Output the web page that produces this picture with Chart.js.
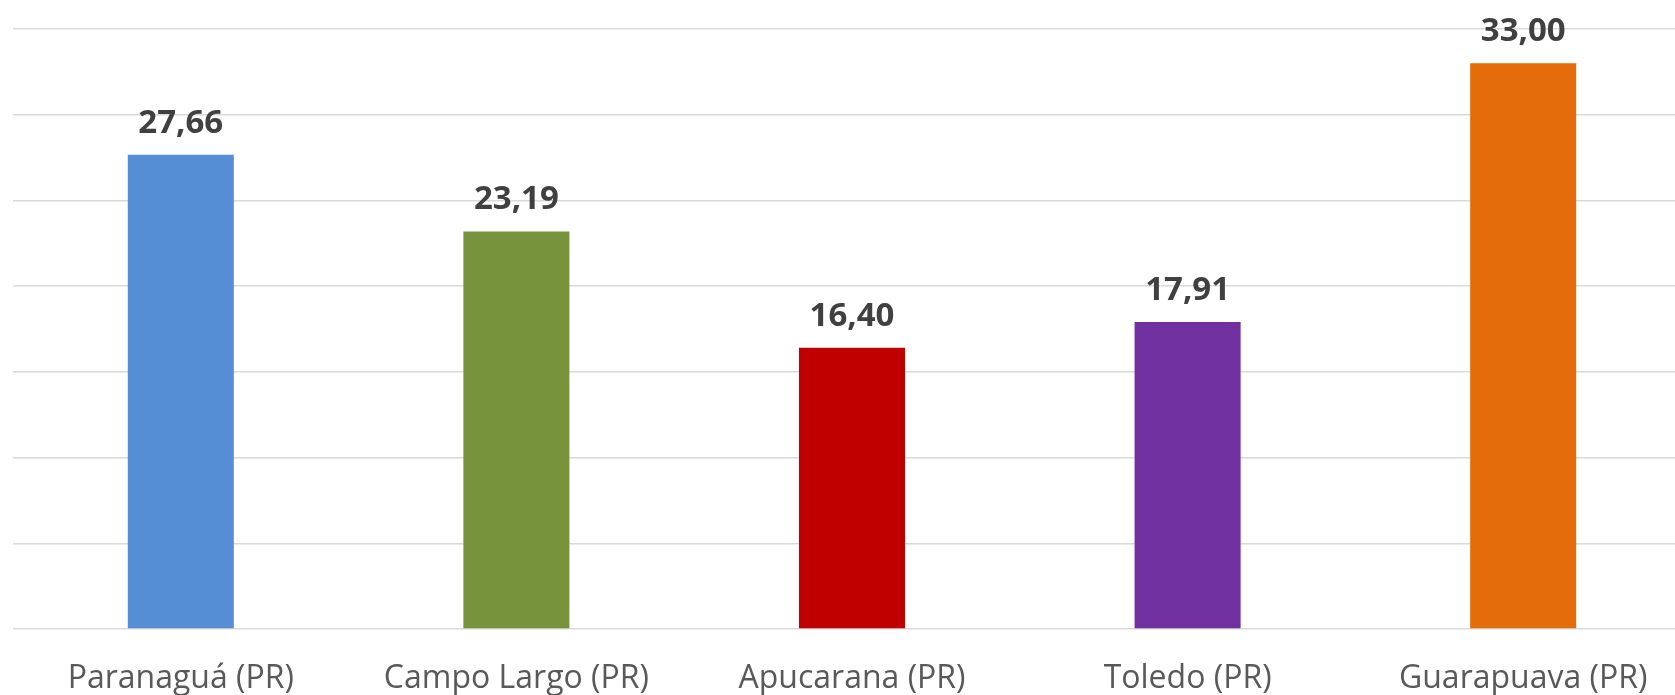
<!DOCTYPE html>
<html>
<head>
<meta charset="utf-8">
<script src="https://cdn.jsdelivr.net/npm/chart.js@4"></script>
<style>
  html, body { margin: 0; padding: 0; background: #fff; overflow: hidden; }
  #wrap { position: relative; width: 1691px; height: 695px; }
</style>
</head>
<body>
<div id="wrap"><canvas id="barChart"></canvas></div>
<script>
var cities = ["Paranaguá (PR)", "Campo Largo (PR)", "Apucarana (PR)", "Toledo (PR)", "Guarapuava (PR)"];
var values = [27.66, 23.19, 16.40, 17.91, 33.00];
var barColors = ["#558ED5", "#77933C", "#C00000", "#7030A0", "#E46C0A"];
var yMin = 0, yMax = 35, yStep = 5;

// draws the value above each bar, with a comma as decimal sign
var valueLabels = {
    id: 'valueLabels',
    afterDatasetsDraw: function(chart) {
        var ctx = chart.ctx;
        var meta = chart.getDatasetMeta(0);
        ctx.save();
        ctx.font = 'bold 33px "Open Sans"';
        ctx.fillStyle = '#404040';
        ctx.textAlign = 'center';
        ctx.textBaseline = 'alphabetic';
        meta.data.forEach(function(bar, i) {
            var txt = values[i].toFixed(2).replace('.', ',');
            ctx.fillText(txt, bar.x, bar.y - 22);
        });
        ctx.restore();
    }
};

var ctx = document.getElementById("barChart").getContext('2d');
var chart = new Chart(ctx, {
    type: 'bar',
    data: {
        labels: cities,
        datasets: [{
            data: values,
            backgroundColor: barColors,
            borderWidth: 0,
            categoryPercentage: 1,
            barPercentage: 0.316
        }]
    },
    options: {
        responsive: true,
        maintainAspectRatio: false,
        animation: false,
        layout: { padding: { left: 13, top: 29, right: 0, bottom: 0 } },
        plugins: {
            legend: { display: false },
            tooltip: { enabled: false }
        },
        scales: {
            x: {
                grid: { display: false, drawTicks: false },
                border: { display: false },
                ticks: {
                    color: '#595959',
                    font: { family: 'Open Sans', size: 32 },
                    padding: 31,
                    maxRotation: 0
                },
                afterFit: function(scale) { scale.height = 66; }
            },
            y: {
                min: yMin,
                max: yMax,
                ticks: { display: false, stepSize: yStep },
                border: { display: false },
                grid: { color: '#D9D9D9', lineWidth: 1.5, drawTicks: false }
            }
        }
    },
    plugins: [valueLabels]
});
</script>
</body>
</html>
